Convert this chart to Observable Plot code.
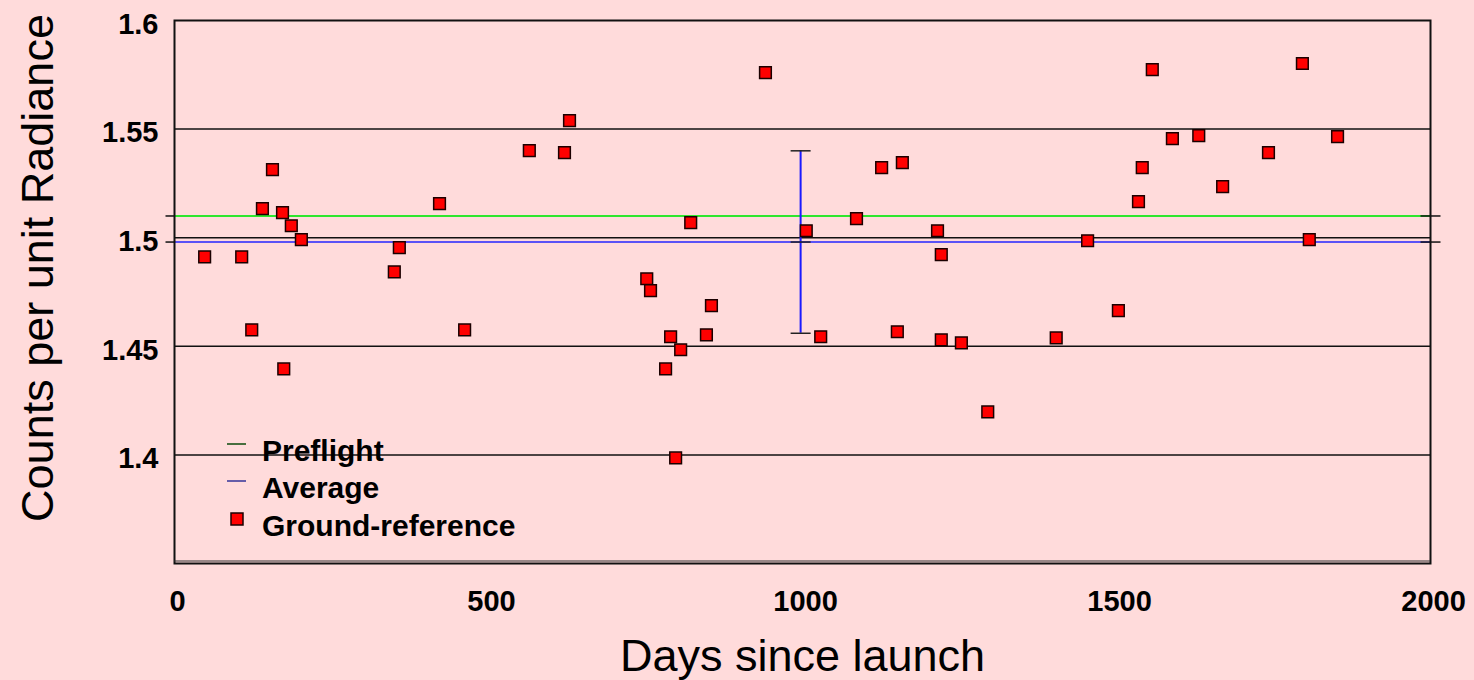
<!DOCTYPE html>
<html>
<head>
<meta charset="utf-8">
<script src="https://cdn.jsdelivr.net/npm/d3@7"></script>
<script src="https://cdn.jsdelivr.net/npm/@observablehq/plot@0.6"></script>
<style>
  html, body { margin: 0; padding: 0; background: #ffdbdb; }
  #chart { position: relative; width: 1474px; height: 680px; }
  #legend { position: absolute; left: 0; top: 0; overflow: visible; }
</style>
</head>
<body>
<div id="chart"></div>
<script>
// Ground-reference calibration results: days since launch vs counts per unit radiance
const days = [48, 107, 123, 140, 156, 172, 174, 186, 202, 350, 358, 422, 462, 565, 621, 629,
  752, 758, 782, 790, 798, 806, 822, 847, 855, 941, 1006, 1029, 1086, 1126, 1151, 1159,
  1215, 1221, 1221, 1253, 1295, 1404, 1454, 1503, 1535, 1541, 1557, 1589, 1631, 1669,
  1742, 1796, 1807, 1852];
const counts = [1.4912, 1.4912, 1.4576, 1.5134, 1.5313, 1.5115, 1.4396, 1.5055, 1.4991,
  1.4843, 1.4954, 1.5157, 1.4576, 1.5401, 1.5392, 1.5539, 1.4811, 1.4756, 1.4396, 1.4544,
  1.3986, 1.4484, 1.5069, 1.4553, 1.4687, 1.5760, 1.5032, 1.4544, 1.5088, 1.5323, 1.4567,
  1.5346, 1.5032, 1.4530, 1.4922, 1.4516, 1.4198, 1.4539, 1.4986, 1.4664, 1.5166, 1.5323,
  1.5774, 1.5456, 1.5470, 1.5235, 1.5392, 1.5802, 1.4991, 1.5465];

// Reference levels
const preflight = 1.51;
const average = 1.498;
// Spread of the ground-reference results, drawn as an error bar
const spreadDay = 997;
const spreadLow = 1.456;
const spreadHigh = 1.540;

// Axes
const xDomain = [0, 2000];
const yDomain = [1.35, 1.6];
const xTicks = [0, 500, 1000, 1500, 2000];
const xTickLabels = ["0", "500", "1000", "1500", "2000"];
const yTicks = [1.4, 1.45, 1.5, 1.55, 1.6];
const yTickLabels = ["1.4", "1.45", "1.5", "1.55", "1.6"];
const gridLevels = [1.4, 1.45, 1.5, 1.55];
const xTitle = "Days since launch";
const yTitle = "Counts per unit Radiance";
const legendLabels = ["Preflight", "Average", "Ground-reference"];

const points = days.map((d, i) => ({day: d, count: counts[i]}));
const spread = [{day: spreadDay, lo: spreadLow, hi: spreadHigh, mid: average}];

// Horizontal dash used for end caps; r is the half-length
const dash = {
  draw(context, size) {
    const h = Math.sqrt(size / Math.PI);
    context.moveTo(-h, 0);
    context.lineTo(h, 0);
  }
};

const font = "'Liberation Sans', Arial, Helvetica, sans-serif";

const chart = Plot.plot({
  width: 1474,
  height: 680,
  marginLeft: 174,
  marginRight: 44,
  marginTop: 20,
  marginBottom: 117,
  style: {background: "transparent", fontFamily: font, color: "black", overflow: "visible"},
  x: {domain: xDomain},
  y: {domain: yDomain},
  marks: [
    Plot.ruleY(gridLevels, {stroke: "#111", strokeWidth: 1.5}),
    Plot.ruleY([preflight], {stroke: "#2ee62e", strokeWidth: 2}),
    Plot.ruleY([average], {stroke: "#2424ff", strokeWidth: 1.5}),
    // end caps on the reference levels
    Plot.dot([preflight, average], {x: () => xDomain[0], y: d => d, symbol: dash, r: 4.5, dx: -4.5,
      fill: "none", stroke: "#111", strokeWidth: 1.5}),
    Plot.dot([preflight, average], {x: () => xDomain[1], y: d => d, symbol: dash, r: 10,
      fill: "none", stroke: "#111", strokeWidth: 1.5}),
    // error bar
    Plot.ruleX(spread, {x: "day", y1: "lo", y2: "hi", stroke: "#1a1aff", strokeWidth: 2}),
    Plot.dot(spread, {x: "day", y: "hi", symbol: dash, r: 10, fill: "none", stroke: "#222", strokeWidth: 1.5}),
    Plot.dot(spread, {x: "day", y: "lo", symbol: dash, r: 10, fill: "none", stroke: "#222", strokeWidth: 1.5}),
    Plot.dot(spread, {x: "day", y: "mid", symbol: dash, r: 10, fill: "none", stroke: "#222", strokeWidth: 1.5}),
    Plot.frame({stroke: "#111", strokeWidth: 2}),
    Plot.ruleY([yDomain[0]], {dy: -2.5, stroke: "#333", strokeWidth: 1}),
    Plot.dot(points, {x: "day", y: "count", symbol: "square", r: 6.6,
      fill: "#ff0000", stroke: "#1a0000", strokeWidth: 1.5}),
    Plot.axisX(xTicks, {tickSize: 0, tickPadding: 27, dx: 3, label: null,
      tickFormat: d => xTickLabels[xTicks.indexOf(d)],
      fontSize: 29, fontWeight: "bold", fill: "black"}),
    Plot.axisY(yTicks, {tickSize: 0, tickPadding: 16, dy: 4, label: null,
      tickFormat: d => yTickLabels[yTicks.indexOf(d)],
      fontSize: 29, fontWeight: "bold", fill: "black"}),
    Plot.text([xTitle], {text: d => d, frameAnchor: "bottom", lineAnchor: "bottom", textAnchor: "middle",
      dy: 107, fontSize: 45, fill: "black"}),
    Plot.text([yTitle], {text: d => d, frameAnchor: "left", lineAnchor: "bottom", textAnchor: "middle",
      rotate: -90, dx: -122, dy: -24, fontSize: 45, fill: "black"})
  ]
});

const host = document.getElementById("chart");
host.appendChild(chart);

// Legend drawn over the lower-left part of the plot area
const legend = d3.select(host).append("svg")
  .attr("id", "legend")
  .attr("width", 1474)
  .attr("height", 680)
  .style("font-family", font);

const rows = [
  {label: legendLabels[0], kind: "line", color: "#0b4a0b", y: 444, base: 461},
  {label: legendLabels[1], kind: "line", color: "#333399", y: 481, base: 498},
  {label: legendLabels[2], kind: "square", y: 519, base: 536}
];
rows.forEach(r => {
  if (r.kind === "line") {
    legend.append("line").attr("x1", 227).attr("x2", 246).attr("y1", r.y).attr("y2", r.y)
      .attr("stroke", r.color).attr("stroke-width", 1.5);
  } else {
    legend.append("rect").attr("x", 231).attr("y", r.y - 6).attr("width", 12).attr("height", 12)
      .attr("fill", "#ff0000").attr("stroke", "#1a0000").attr("stroke-width", 1.5);
  }
  legend.append("text").attr("x", 262).attr("y", r.base)
    .attr("font-size", 30).attr("font-weight", "bold").attr("fill", "black")
    .text(r.label);
});
</script>
</body>
</html>
